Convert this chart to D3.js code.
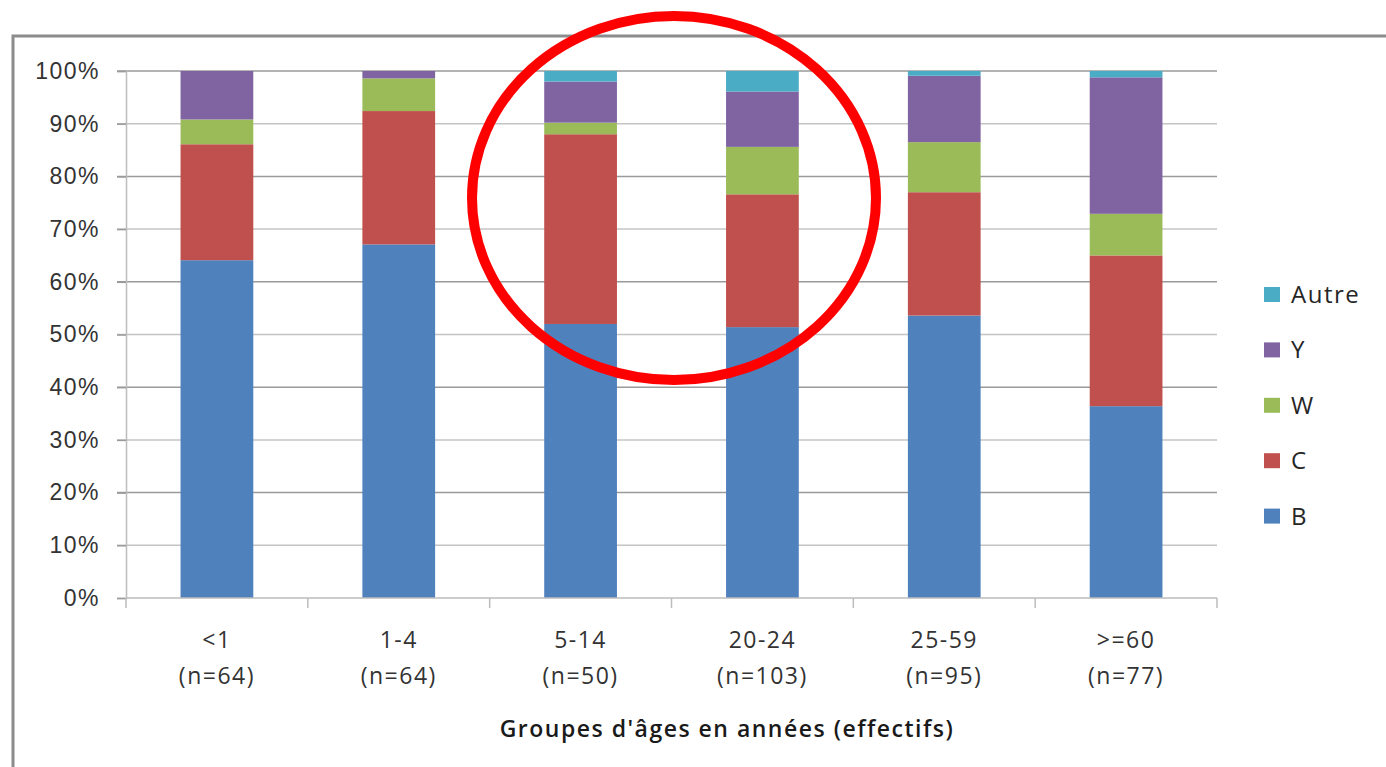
<!DOCTYPE html>
<html>
<head>
<meta charset="utf-8">
<script src="https://cdn.jsdelivr.net/npm/d3@7"></script>
<style>
  body { margin: 0; background: #fff; }
  svg { display: block; font-family: "Open Sans", Lato, sans-serif; }
</style>
</head>
<body>
<svg id="chart" width="1386" height="767"></svg>
<script>
// age groups and their sample sizes
const groups = ["<1", "1-4", "5-14", "20-24", "25-59", ">=60"]
const counts = [64, 64, 50, 103, 95, 77]

// share (%) of each type per age group, bottom to top
const serB     = [64.1, 67.1, 52.0, 51.4, 53.6, 36.4]
const serC     = [22.0, 25.3, 36.0, 25.2, 23.4, 28.6]
const serW     = [4.7, 6.2, 2.2, 9.0, 9.5, 7.9]
const serY     = [9.2, 1.4, 7.8, 10.5, 12.6, 25.9]
const serAutre = [0.0, 0.0, 2.0, 3.9, 0.9, 1.2]

const seriesNames = ["B", "C", "W", "Y", "Autre"]
const seriesColors = ["#4f81bd", "#c0504d", "#9bbb59", "#8064a2", "#4bacc6"]
const yTicks = [0, 10, 20, 30, 40, 50, 60, 70, 80, 90, 100]

const svg = d3.select("#chart")

// outer frame of the pasted chart
svg.append("path")
  .attr("d", "M13,767 L13,36 L1386,36")
  .attr("fill", "none")
  .attr("stroke", "#8c8c8c")
  .attr("stroke-width", 3)

const x = d3.scaleBand().domain(groups).range([126, 1217]).paddingInner(0.6).paddingOuter(0.3)
const xOuter = d3.scaleBand().domain(groups).range([126, 1217])
const y = d3.scaleLinear().domain([0, 100]).range([598, 71])

// gridlines
svg.append("g")
  .selectAll("line")
  .data(yTicks.filter(t => t > 0))
  .enter()
  .append("line")
  .attr("x1", 117).attr("x2", 1217)
  .attr("y1", d => y(d)).attr("y2", d => y(d))
  .attr("stroke", d => (d % 20 === 0 ? "#9a9a9a" : "#c4c4c4"))
  .attr("stroke-width", 1.5)

// y axis
const yAxis = svg.append("g").attr("transform", "translate(126,0)")
  .call(d3.axisLeft(y).tickValues(yTicks).tickFormat(d => d + "%").tickSize(9).tickPadding(17))
yAxis.select(".domain").attr("stroke", "#bdbdbd").attr("stroke-width", 1.5)
yAxis.selectAll(".tick line").attr("stroke", "#9a9a9a").attr("stroke-width", 1.5)
yAxis.selectAll("text")
  .style("font-size", "23px")
  .style("letter-spacing", "1.5px")
  .attr("fill", "#333")

// stacked bars
const table = groups.map((g, i) => ({
  group: g, B: serB[i], C: serC[i], W: serW[i], Y: serY[i], Autre: serAutre[i]
}))
const stacked = d3.stack().keys(seriesNames)(table)

svg.append("g")
  .selectAll("g")
  .data(stacked)
  .enter()
  .append("g")
  .attr("fill", (d, i) => seriesColors[i])
  .selectAll("rect")
  .data(d => d)
  .enter()
  .append("rect")
  .attr("x", d => x(d.data.group))
  .attr("width", x.bandwidth())
  .attr("y", d => y(d[1]))
  .attr("height", d => y(d[0]) - y(d[1]))

// x axis line and ticks
svg.append("line")
  .attr("x1", 126).attr("x2", 1217).attr("y1", y(0)).attr("y2", y(0))
  .attr("stroke", "#bdbdbd").attr("stroke-width", 1.5)
const boundaries = groups.map(g => xOuter(g)).concat([1217])
svg.append("g")
  .selectAll("line")
  .data(boundaries)
  .enter()
  .append("line")
  .attr("x1", d => d).attr("x2", d => d)
  .attr("y1", y(0)).attr("y2", y(0) + 10)
  .attr("stroke", "#bdbdbd").attr("stroke-width", 1.5)

// category labels
const labels = svg.append("g")
  .selectAll("text")
  .data(groups)
  .enter()
  .append("text")
  .attr("text-anchor", "middle")
  .attr("fill", "#333")
  .style("font-size", "23px")
  .style("letter-spacing", "1.5px")
labels.append("tspan")
  .attr("x", d => xOuter(d) + xOuter.bandwidth() / 2)
  .attr("y", 648)
  .text(d => d)
labels.append("tspan")
  .attr("x", d => xOuter(d) + xOuter.bandwidth() / 2)
  .attr("y", 684)
  .text((d, i) => "(n=" + counts[i] + ")")

// axis title
svg.append("text")
  .attr("x", 727).attr("y", 737)
  .attr("text-anchor", "middle")
  .attr("fill", "#1a1a1a")
  .style("font-size", "23px")
  .style("letter-spacing", "1.5px")
  .style("font-weight", "600")
  .text("Groupes d'âges en années (effectifs)")

// legend, top entry is the last series
const legend = svg.append("g")
  .selectAll("g")
  .data(seriesNames.slice().reverse())
  .enter()
  .append("g")
  .attr("transform", (d, i) => "translate(1264," + (295 + i * 55.4) + ")")
legend.append("rect")
  .attr("x", 0).attr("y", -8)
  .attr("width", 16).attr("height", 15)
  .attr("fill", d => seriesColors[seriesNames.indexOf(d)])
legend.append("text")
  .attr("x", 27).attr("y", 8)
  .attr("fill", "#262626")
  .style("font-size", "24px")
  .style("letter-spacing", "1.5px")
  .text(d => d)

// red highlight ellipse
svg.append("ellipse")
  .attr("cx", 674).attr("cy", 198)
  .attr("rx", 202).attr("ry", 182)
  .attr("fill", "none")
  .attr("stroke", "#ff0000")
  .attr("stroke-width", 10)
</script>
</body>
</html>
